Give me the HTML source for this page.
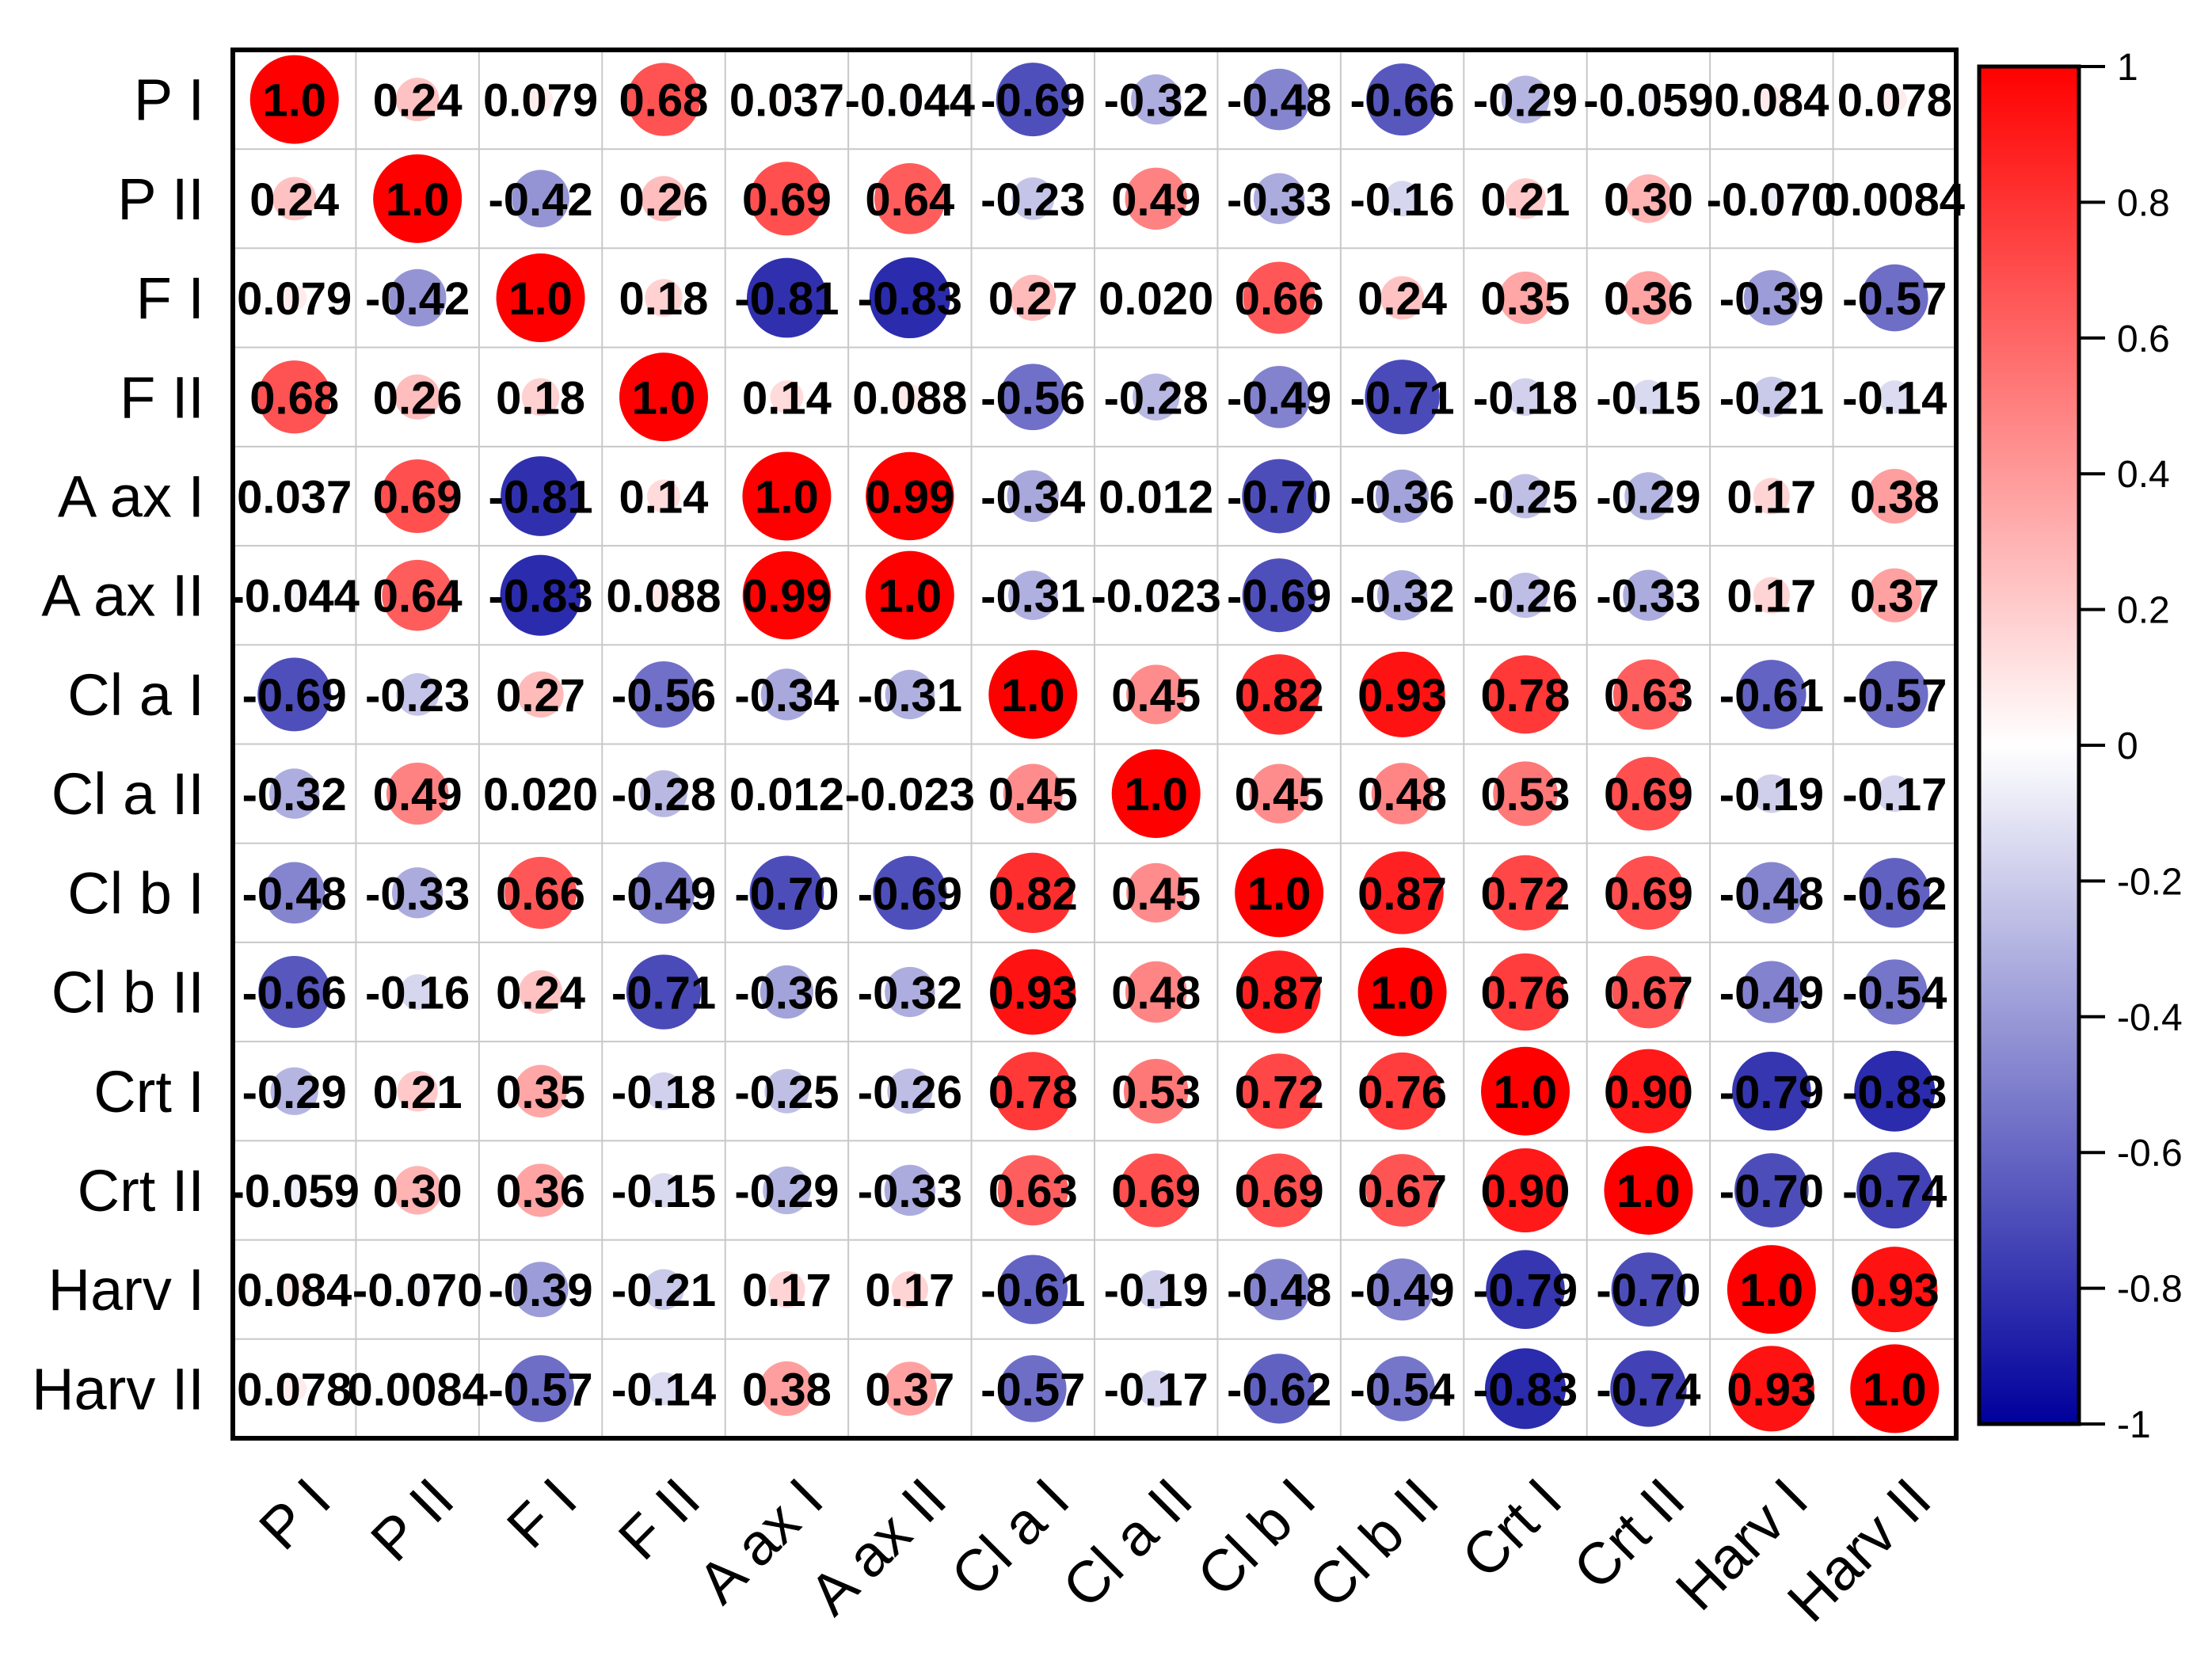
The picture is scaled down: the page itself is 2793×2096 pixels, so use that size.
<!DOCTYPE html>
<html><head><meta charset="utf-8"><style>
html,body{margin:0;padding:0;background:#fff;}
svg{display:block;font-family:"Liberation Sans",sans-serif;}
</style></head><body>
<svg id="chart" width="2793" height="2096" viewBox="0 0 2793 2096" xmlns="http://www.w3.org/2000/svg">
<defs>
<linearGradient id="cbgrad" x1="0" y1="0" x2="0" y2="1">
<stop offset="0" stop-color="#ff0000"/>
<stop offset="0.5" stop-color="#ffffff"/>
<stop offset="1" stop-color="#00009c"/>
</linearGradient>
</defs>
<g id="grid"></g><g id="marks"></g><g id="labels"></g><g id="cbar"></g>
</svg>
<script>
const categories = ["P I","P II","F I","F II","A ax I","A ax II","Cl a I","Cl a II","Cl b I","Cl b II","Crt I","Crt II","Harv I","Harv II"];
const row0 = [1,0.24,0.079,0.68,0.037,-0.044,-0.69,-0.32,-0.48,-0.66,-0.29,-0.059,0.084,0.078];
const row1 = [0.24,1,-0.42,0.26,0.69,0.64,-0.23,0.49,-0.33,-0.16,0.21,0.30,-0.070,0.0084];
const row2 = [0.079,-0.42,1,0.18,-0.81,-0.83,0.27,0.020,0.66,0.24,0.35,0.36,-0.39,-0.57];
const row3 = [0.68,0.26,0.18,1,0.14,0.088,-0.56,-0.28,-0.49,-0.71,-0.18,-0.15,-0.21,-0.14];
const row4 = [0.037,0.69,-0.81,0.14,1,0.99,-0.34,0.012,-0.70,-0.36,-0.25,-0.29,0.17,0.38];
const row5 = [-0.044,0.64,-0.83,0.088,0.99,1,-0.31,-0.023,-0.69,-0.32,-0.26,-0.33,0.17,0.37];
const row6 = [-0.69,-0.23,0.27,-0.56,-0.34,-0.31,1,0.45,0.82,0.93,0.78,0.63,-0.61,-0.57];
const row7 = [-0.32,0.49,0.020,-0.28,0.012,-0.023,0.45,1,0.45,0.48,0.53,0.69,-0.19,-0.17];
const row8 = [-0.48,-0.33,0.66,-0.49,-0.70,-0.69,0.82,0.45,1,0.87,0.72,0.69,-0.48,-0.62];
const row9 = [-0.66,-0.16,0.24,-0.71,-0.36,-0.32,0.93,0.48,0.87,1,0.76,0.67,-0.49,-0.54];
const row10 = [-0.29,0.21,0.35,-0.18,-0.25,-0.26,0.78,0.53,0.72,0.76,1,0.90,-0.79,-0.83];
const row11 = [-0.059,0.30,0.36,-0.15,-0.29,-0.33,0.63,0.69,0.69,0.67,0.90,1,-0.70,-0.74];
const row12 = [0.084,-0.070,-0.39,-0.21,0.17,0.17,-0.61,-0.19,-0.48,-0.49,-0.79,-0.70,1,0.93];
const row13 = [0.078,0.0084,-0.57,-0.14,0.38,0.37,-0.57,-0.17,-0.62,-0.54,-0.83,-0.74,0.93,1];
const matrix = [row0,row1,row2,row3,row4,row5,row6,row7,row8,row9,row10,row11,row12,row13];
const cbTicks = [1,0.8,0.6,0.4,0.2,0,-0.2,-0.4,-0.6,-0.8,-1];

const NS="http://www.w3.org/2000/svg";
const GX0=294,GX1=2470,GY0=63,GY1=1816;
const n=categories.length;
const cw=(GX1-GX0)/n, ch=(GY1-GY0)/n;
const RMAX=56;
const xAt=i=>GX0+(i+0.5)*cw;
const yAt=i=>GY0+(i+0.5)*ch;
const CB={x0:2499,x1:2625,y0:84,y1:1798};
const cbY=v=>CB.y0+(1-v)/2*(CB.y1-CB.y0);
function mk(tag,attrs,parent){const e=document.createElementNS(NS,tag);for(const k in attrs)e.setAttribute(k,attrs[k]);parent.appendChild(e);return e;}
function color(v){
  let r,g,b;
  if(v>=0){r=255;g=Math.round(255*(1-v));b=g;}
  else{const t=-v;r=Math.round(255*(1-t));g=r;b=Math.round(255-(255-156)*t);}
  return `rgb(${r},${g},${b})`;
}
function fmt(v){return v.toPrecision(2);}
const grid=document.getElementById('grid'),marks=document.getElementById('marks'),labels=document.getElementById('labels'),cbar=document.getElementById('cbar');
for(let i=1;i<n;i++){
  const vl=mk('line',{x1:GX0+i*cw,x2:GX0+i*cw,y1:GY0,y2:GY1,stroke:'#c8c8c8','stroke-width':2},grid);
  
  
  const hl=mk('line',{x1:GX0,x2:GX1,y1:GY0+i*ch,y2:GY0+i*ch,stroke:'#c8c8c8','stroke-width':2},grid);
  
  
}
for(let r=0;r<n;r++){
  for(let c=0;c<n;c++){
    const v=matrix[r][c];
    const circ=mk('circle',{cx:xAt(c),cy:yAt(r),r:RMAX*Math.sqrt(Math.abs(v)),fill:color(v)},marks);
    
    
    const t=mk('text',{x:xAt(c),y:yAt(r)+21,'text-anchor':'middle','font-size':58,'font-weight':'bold',fill:'#000'},marks);
    t.textContent=fmt(v);
    
    
  }
  const yl=mk('text',{x:258,y:yAt(r)+26,'text-anchor':'end','font-size':74,fill:'#000'},labels);
  yl.textContent=categories[r];
  
  
  const xl=mk('text',{x:0,y:0,'text-anchor':'end','font-size':74,fill:'#000',transform:`translate(${xAt(r)+50},${GY1+82}) rotate(-45)`},labels);
  xl.textContent=categories[r];
  
  
}
const border=mk('rect',{x:GX0,y:GY0,width:GX1-GX0,height:GY1-GY0,fill:'none',stroke:'#000','stroke-width':6},labels);


const bar=mk('rect',{x:CB.x0,y:CB.y0,width:CB.x1-CB.x0,height:CB.y1-CB.y0,fill:'url(#cbgrad)',stroke:'#000','stroke-width':5},cbar);


cbTicks.forEach(v=>{
  const y=cbY(v);
  const tk=mk('line',{x1:CB.x1,x2:CB.x1+33,y1:y,y2:y,stroke:'#000','stroke-width':4},cbar);
  
  
  const tl=mk('text',{x:CB.x1+48,y:y+17,'font-size':48,fill:'#000'},cbar);
  tl.textContent=String(v);
  
  
});
</script>
</body></html>
